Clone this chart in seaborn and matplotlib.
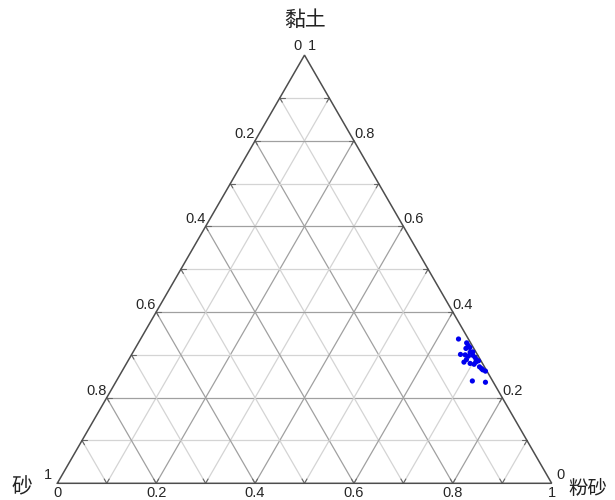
import numpy as np
import pandas as pd
import matplotlib
matplotlib.use("Agg")
import matplotlib.pyplot as plt
import seaborn as sns

# ---- data (fractions) ----
sand = [0.020, 0.008, 0.008, 0.007, 0.016, 0.034, 0.025, 0.006, 0.010, 0.008,
        0.008, 0.005, 0.036, 0.025, 0.028, 0.010, 0.008, 0.003, 0.007, 0.041,
        0.016, 0.012, 0.018, 0.012, 0.020]
silt = [0.643, 0.664, 0.670, 0.676, 0.669, 0.665, 0.675, 0.687, 0.691, 0.698,
        0.703, 0.709, 0.681, 0.695, 0.683, 0.718, 0.724, 0.735, 0.728, 0.720,
        0.748, 0.705, 0.704, 0.682, 0.683]
clay = [0.337, 0.328, 0.322, 0.317, 0.315, 0.301, 0.300, 0.307, 0.299, 0.294,
        0.289, 0.286, 0.283, 0.280, 0.289, 0.272, 0.268, 0.262, 0.265, 0.239,
        0.236, 0.283, 0.278, 0.306, 0.297]

grid_vals = [0.1, 0.2, 0.3, 0.4, 0.5, 0.6, 0.7, 0.8, 0.9]
tick_labels = ["0.2", "0.4", "0.6", "0.8"]
tick_vals = [0.2, 0.4, 0.6, 0.8]
title_clay = "黏土"
title_sand = "砂"
title_silt = "粉砂"

sns.set_style("white")
plt.rcParams['font.family'] = ['Liberation Sans', 'Noto Sans CJK SC', 'DejaVu Sans']

H = np.sqrt(3) / 2


def xy(sa, si, cl):
    sa, si, cl = np.asarray(sa, float), np.asarray(si, float), np.asarray(cl, float)
    return si + cl / 2.0, cl * H


fig = plt.figure(figsize=(6.15, 5.0), dpi=100)
ax = fig.add_axes([0, 0, 1, 1])
W = 494.4
x0, yb = 57.3, 483.3
ax.set_xlim(-x0 / W, (615 - x0) / W)
ax.set_ylim((yb - 500) / W, yb / W)
ax.axis("off")

minor_c = "#d4d4d4"
major_c = "#a0a0a0"
tick_c = "#666666"
for v in grid_vals:
    col = major_c if any(abs(v - t) < 1e-9 for t in tick_vals) else minor_c
    lines = [
        ((1 - v, 0, v), (0, 1 - v, v)),      # constant clay
        ((v, 0, 1 - v), (v, 1 - v, 0)),      # constant sand
        ((0, v, 1 - v), (1 - v, v, 0)),      # constant silt
    ]
    for a, b in lines:
        xa, ya = xy(*a)
        xb, yb2 = xy(*b)
        ax.plot([xa, xb], [ya, yb2], color=col, lw=0.9, zorder=1)
        d = np.array([xb - xa, yb2 - ya])
        d = d / np.hypot(*d) * 0.010
        ax.plot([xa, xa + d[0]], [ya, ya + d[1]], color=tick_c, lw=0.8, zorder=2)
        ax.plot([xb, xb - d[0]], [yb2, yb2 - d[1]], color=tick_c, lw=0.8, zorder=2)

# outer triangle
tx, ty = xy([1, 0, 0, 1], [0, 1, 0, 0], [0, 0, 1, 0])
ax.plot(tx, ty, color="#4d4d4d", lw=1.1, zorder=3, solid_joinstyle="miter")

fs = 10.5
# left edge: sand values
for v, lab in zip(tick_vals, tick_labels):
    x, y = xy(v, 0, 1 - v)
    ax.text(x, y, lab, ha="right", va="bottom", fontsize=fs)
# right edge: clay values
for v, lab in zip(tick_vals, tick_labels):
    x, y = xy(0, 1 - v, v)
    ax.text(x, y, lab, ha="left", va="bottom", fontsize=fs)
# bottom edge: silt values
for v, lab in zip([0] + tick_vals + [1], ["0"] + tick_labels + ["1"]):
    x, y = xy(1 - v, v, 0)
    ax.text(x, y - 0.005, lab, ha="center", va="top", fontsize=fs)
# vertex labels
x, y = xy(0, 0, 1)
ax.text(x - 0.006, y + 0.004, "0", ha="right", va="bottom", fontsize=fs)
ax.text(x + 0.006, y + 0.004, "1", ha="left", va="bottom", fontsize=fs)
x, y = xy(1, 0, 0)
ax.text(x - 0.01, y + 0.002, "1", ha="right", va="bottom", fontsize=fs)
x, y = xy(0, 1, 0)
ax.text(x + 0.01, y + 0.002, "0", ha="left", va="bottom", fontsize=fs)

cjk = ['Noto Sans CJK SC', 'DejaVu Sans']
ax.text((305 - x0) / W, (yb - 20) / W, title_clay, ha="center", va="center",
        fontsize=15, family=cjk, color="#222222")
ax.text((21.5 - x0) / W, (yb - 487) / W, title_sand, ha="center", va="center",
        fontsize=15, family=cjk, color="#222222")
ax.text((588 - x0) / W, (yb - 489) / W, title_silt, ha="center", va="center",
        fontsize=14, family=cjk, color="#222222")

px, py = xy(sand, silt, clay)
df = pd.DataFrame({"x": px, "y": py})
sns.scatterplot(data=df, x="x", y="y", ax=ax, color="#0000ee", s=14,
                edgecolor="none", zorder=5, legend=False)
ax.set_xlabel("")
ax.set_ylabel("")
ax.axis("off")

fig.savefig("out.png", dpi=100, facecolor="white")
